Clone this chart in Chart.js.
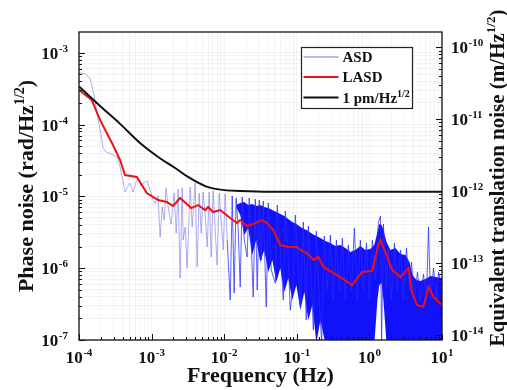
<!DOCTYPE html>
<html>
<head>
<meta charset="utf-8">
<script src="https://cdn.jsdelivr.net/npm/chart.js@4.4.0/dist/chart.umd.min.js"></script>
<style>
  html, body { margin: 0; padding: 0; background: #fff; }
  #wrap { width: 507px; height: 390px; }
</style>
</head>
<body>
<div id="wrap"><canvas id="noiseChart" width="507" height="390"></canvas></div>
<script>
// ASD: raw amplitude spectral density (rad/Hz^1/2)
const asdFreq = [
  1.0e-4, 1.21e-4, 1.42e-4, 1.61e-4, 1.77e-4, 2.01e-4, 2.14e-4, 2.36e-4, 2.76e-4, 3.34e-4,
  3.68e-4, 4.04e-4, 4.30e-4, 4.74e-4, 5.05e-4, 5.56e-4, 6.11e-4, 6.52e-4, 7.16e-4, 7.64e-4,
  8.67e-4, 9.53e-4, 1.05e-3, 1.12e-3, 1.23e-3, 1.31e-3, 1.40e-3, 1.49e-3, 1.58e-3, 1.69e-3,
  1.86e-3, 2.04e-3, 2.18e-3, 2.32e-3, 2.47e-3, 2.64e-3, 2.72e-3, 2.90e-3, 3.09e-3, 3.40e-3,
  3.62e-3, 3.98e-3, 4.24e-3, 4.52e-3, 4.82e-3, 5.13e-3, 5.47e-3, 5.83e-3, 6.21e-3, 6.62e-3,
  7.05e-3, 7.52e-3, 8.00e-3, 8.53e-3, 9.09e-3, 9.69e-3, 1.03e-2, 1.10e-2, 1.21e-2, 1.29e-2,
  1.37e-2, 1.46e-2, 1.56e-2, 1.66e-2, 1.77e-2, 1.89e-2, 2.07e-2, 2.21e-2, 2.36e-2, 2.51e-2,
  2.68e-2, 2.85e-2, 3.04e-2, 3.24e-2, 3.45e-2, 3.79e-2, 4.05e-2, 4.45e-2, 5.05e-2, 5.38e-2,
  5.92e-2, 6.52e-2, 6.94e-2, 7.64e-2, 8.13e-2, 8.95e-2, 9.53e-2, 0.105, 0.112, 0.123,
  0.135, 0.144, 0.158, 0.169, 0.186, 0.204, 0.22, 0.239, 0.264, 0.290,
  0.318, 0.351, 0.386, 0.424, 0.467, 0.513, 0.565, 0.621, 0.683, 0.751,
  0.827, 0.910, 1.0, 1.10, 1.21, 1.33, 1.42, 1.47, 1.56, 1.72,
  1.83, 2.01, 2.21, 2.43, 2.68, 2.94, 3.24, 3.56, 3.80, 4.18,
  4.59, 5.05, 5.56, 6.11, 6.52, 6.94, 7.64, 8.40, 8.95, 10
];
const asdVal = [
  5.2e-4, 5.1e-4, 4.4e-4, 2.58e-4, 1.45e-4, 7.14e-5, 4.71e-5, 4.14e-5, 3.88e-5, 3.53e-5,
  2.56e-5, 1.63e-5, 1.15e-5, 1.39e-5, 1.53e-5, 1.15e-5, 1.58e-5, 1.80e-5, 1.39e-5, 1.53e-5,
  1.63e-5, 1.22e-5, 8.88e-6, 8.07e-6, 1.01e-5, 2.71e-6, 7.10e-6, 4.68e-6, 1.31e-5, 7.10e-6,
  4.11e-6, 1.11e-5, 3.08e-6, 1.26e-5, 7.28e-7, 1.31e-5, 2.46e-6, 3.73e-6, 1.00e-6, 1.35e-5,
  3.73e-6, 1.53e-5, 1.04e-6, 1.11e-5, 3.08e-6, 1.15e-5, 5.49e-6, 1.97e-6, 1.15e-5, 1.43e-6,
  1.19e-5, 3.40e-6, 1.10e-6, 1.11e-5, 4.68e-6, 1.79e-6, 1.08e-5, 2.46e-6, 3.60e-7, 1.01e-5,
  4.50e-7, 9.47e-6, 3.40e-6, 5.46e-7, 9.78e-6, 2.46e-6, 1.43e-6, 9.47e-6, 2.10e-6, 3.96e-7,
  9.17e-6, 4.95e-7, 8.88e-6, 1.30e-6, 8.60e-6, 2.87e-7, 8.07e-6, 9.41e-7, 6.20e-7, 7.57e-6,
  1.79e-6, 3.60e-7, 6.24e-6, 1.30e-6, 2.61e-7, 6.20e-7, 5.49e-6, 1.10e-6, 2.87e-7, 4.39e-6,
  1.89e-7, 3.86e-6, 6.82e-7, 1.37e-7, 3.29e-6, 3.60e-7, 9e-8, 2.80e-6, 4.95e-7, 2.89e-6,
  3.60e-7, 2.46e-6, 4.95e-7, 2.62e-6, 3.60e-7, 2.10e-6, 4.95e-7, 3.61e-6, 3.60e-7, 2.46e-6,
  4.95e-7, 2.24e-6, 3.60e-7, 2.46e-6, 6.82e-7, 4.39e-6, 5.32e-6, 9e-8, 4.11e-6, 4.95e-7,
  2.03e-6, 3.60e-7, 2.24e-6, 4.95e-7, 1.79e-6, 3.60e-7, 1.91e-6, 4.95e-7, 1.22e-6, 3.60e-7,
  8.83e-7, 3.60e-7, 8.28e-7, 3.60e-7, 3.73e-6, 3.60e-7, 1.00e-6, 3.60e-7, 8.83e-7, 4.95e-7
];

// dense part of the ASD (where the trace turns into a solid blue band)
const bandFreq = [
  1.46e-2, 1.66e-2, 1.89e-2, 2.14e-2, 2.43e-2, 2.76e-2, 3.14e-2, 3.56e-2, 4.05e-2, 4.60e-2,
  5.23e-2, 5.92e-2, 6.74e-2, 7.64e-2, 8.67e-2, 9.86e-2, 0.112, 0.127, 0.144, 0.164,
  0.186, 0.211, 0.247, 0.290, 0.339, 0.398, 0.467, 0.547, 0.640, 0.751,
  0.880, 1.03, 1.17, 1.29, 1.37, 1.47, 1.56, 1.72, 1.95, 2.28,
  2.68, 3.14, 3.56, 3.92, 4.45, 5.05, 5.92, 6.94, 8.13, 10
];
const bandUpper = [
  7.57e-6, 8.07e-6, 8.33e-6, 7.57e-6, 7.81e-6, 7.33e-6, 7.57e-6, 7.10e-6, 6.87e-6, 6.44e-6,
  6.04e-6, 5.66e-6, 5.32e-6, 4.83e-6, 4.39e-6, 4.11e-6, 3.73e-6, 3.51e-6, 3.29e-6, 2.99e-6,
  2.80e-6, 2.62e-6, 2.38e-6, 2.24e-6, 2.03e-6, 2.10e-6, 1.91e-6, 1.68e-6, 1.79e-6, 2.03e-6,
  1.79e-6, 1.85e-6, 2.10e-6, 3.18e-6, 4.11e-6, 3.98e-6, 3.40e-6, 2.31e-6, 1.79e-6, 1.91e-6,
  1.57e-6, 1.52e-6, 1.22e-6, 8.02e-7, 6.82e-7, 6.61e-7, 7.05e-7, 7.76e-7, 7.52e-7, 7.28e-7
];
const bandLower = [
  7.10e-6, 5.49e-6, 2.89e-6, 3.61e-6, 1.52e-6, 2.46e-6, 1.22e-6, 1.79e-6, 8.83e-7, 1.30e-6,
  6.40e-7, 1.00e-6, 4.65e-7, 7.28e-7, 3.60e-7, 5.82e-7, 2.61e-7, 4.65e-7, 1.89e-7, 3.06e-7,
  9e-8, 1.89e-7, 9e-8, 9e-8, 9e-8, 9e-8, 9e-8, 9e-8, 9e-8, 9e-8,
  9e-8, 9e-8, 9e-8, 3.60e-7, 5.82e-7, 6.20e-7, 3.60e-7, 9e-8, 9e-8, 9e-8,
  9e-8, 9e-8, 9e-8, 9e-8, 9e-8, 9e-8, 9e-8, 9e-8, 9e-8, 9e-8
];

// LASD: log-averaged spectral density
const lasdFreq = [1e-4, 1.50e-4, 1.95e-4, 2.41e-4, 2.94e-4, 3.68e-4, 4.30e-4, 6.25e-4, 8.59e-4, 1.23e-3,
                  1.62e-3, 1.98e-3, 2.47e-3, 3.51e-3, 4.37e-3, 5.47e-3, 6.01e-3, 7.05e-3, 8.81e-3, 1.21e-2,
                  1.50e-2, 1.66e-2, 2.06e-2, 2.51e-2, 3.31e-2, 3.88e-2, 4.74e-2, 5.92e-2, 7.33e-2, 0.101,
                  0.112, 0.138, 0.169, 0.198, 0.232, 0.290, 0.398, 0.577, 0.793, 1.09,
                  1.33, 1.42, 1.66, 2.06, 2.68, 3.45, 3.88, 4.55, 5.56, 6.52, 7.64, 10];
const lasdVal  = [3.02e-4, 2.19e-4, 1.16e-4, 7.62e-5, 5.18e-5, 3.20e-5, 1.98e-5, 1.86e-5, 1.11e-5, 8.88e-6,
                  8.33e-6, 7.33e-6, 9.47e-6, 6.87e-6, 7.57e-6, 6.44e-6, 7.10e-6, 6.04e-6, 6.44e-6, 4.99e-6,
                  4.25e-6, 4.68e-6, 3.86e-6, 4.11e-6, 4.68e-6, 4.25e-6, 3.40e-6, 2.10e-6, 1.99e-6, 1.97e-6,
                  1.79e-6, 1.62e-6, 1.30e-6, 1.44e-6, 1.04e-6, 9.12e-7, 7.52e-7, 5.82e-7, 8.83e-7, 9.12e-7,
                  2.10e-6, 2.46e-6, 1.68e-6, 9.41e-7, 7.52e-7, 1.00e-6, 4.50e-7, 3.06e-7, 2.90e-7, 5.46e-7,
                  3.96e-7, 3.06e-7];

// 1 pm/Hz^1/2 requirement curve
const refFreq = [1e-4, 1.95e-4, 3.68e-4, 6.93e-4, 1.23e-3, 2.11e-3, 3.18e-3, 5.47e-3, 8.81e-3, 1.66e-2, 4.30e-2, 10];
const refVal  = [3.38e-4, 1.81e-4, 1.02e-4, 5.52e-5, 3.53e-5, 2.48e-5, 1.86e-5, 1.39e-5, 1.24e-5, 1.19e-5, 1.16e-5, 1.16e-5];

// tick labels (powers of ten)
const xTickExp = [-4, -3, -2, -1, 0, 1];
const yTickExp = [-7, -6, -5, -4, -3];
const y2TickExp = [-14, -13, -12, -11, -10];

const FONT = '"Liberation Serif", "Times New Roman", serif';
const yMin = 1e-7, yMax = 1.94e-3;
const rightFactor = 8.4e-8; // rad -> m, so that 1 pm sits on the black plateau

const pts = (xs, ys) => xs.map((x, i) => ({ x: x, y: ys[i] }));

function logTicks(min, max) {
  const out = [];
  for (let e = Math.floor(Math.log10(min)); e <= Math.ceil(Math.log10(max)); e++) {
    for (let m = 1; m <= 9; m++) {
      const v = m * Math.pow(10, e);
      if (v >= min * 0.999 && v <= max * 1.001) out.push({ value: v });
    }
  }
  return out;
}
const isDecade = v => Math.abs(Math.log10(v) - Math.round(Math.log10(v))) < 1e-6;

function drawPow(ctx, exp, x, y, align) {
  ctx.font = 'bold 17px ' + FONT;
  const wb = ctx.measureText('10').width;
  ctx.font = 'bold 11px ' + FONT;
  const es = String(exp);
  const we = ctx.measureText(es).width + 0.5;
  const x0 = align === 'center' ? x - (wb + we) / 2 : align === 'right' ? x - wb - we : x;
  ctx.textAlign = 'left';
  ctx.textBaseline = 'alphabetic';
  ctx.font = 'bold 17px ' + FONT;
  ctx.fillText('10', x0, y);
  ctx.font = 'bold 11px ' + FONT;
  ctx.fillText(es, x0 + wb + 0.5, y - 7);
}

// text with a superscript part; parts = [{t, size, rise}]
function drawRich(ctx, parts, x, y, align) {
  let w = 0;
  parts.forEach(p => { ctx.font = 'bold ' + p.size + 'px ' + FONT; p.w = ctx.measureText(p.t).width; w += p.w; });
  let cx = align === 'center' ? x - w / 2 : x;
  ctx.textAlign = 'left';
  ctx.textBaseline = 'alphabetic';
  parts.forEach(p => {
    ctx.font = 'bold ' + p.size + 'px ' + FONT;
    ctx.fillText(p.t, cx, y - (p.rise || 0));
    cx += p.w;
  });
}

const decorPlugin = {
  id: 'decor',
  afterDraw(chart) {
    const ctx = chart.ctx;
    const a = chart.chartArea;
    const sx = chart.scales.x, sy = chart.scales.y, sy2 = chart.scales.y2;
    ctx.save();
    ctx.strokeStyle = '#111';
    ctx.fillStyle = '#111';

    // tick marks, pointing inwards
    ctx.lineWidth = 1;
    ctx.beginPath();
    sx.ticks.forEach(t => {
      const px = Math.round(sx.getPixelForValue(t.value)) + 0.5;
      const len = isDecade(t.value) ? 6 : 3;
      ctx.moveTo(px, a.bottom); ctx.lineTo(px, a.bottom - len);
    });
    sy.ticks.forEach(t => {
      const py = Math.round(sy.getPixelForValue(t.value)) + 0.5;
      const len = isDecade(t.value) ? 6 : 3;
      ctx.moveTo(a.left, py); ctx.lineTo(a.left + len, py);
    });
    sy2.ticks.forEach(t => {
      const py = Math.round(sy2.getPixelForValue(t.value)) + 0.5;
      const len = isDecade(t.value) ? 6 : 3;
      ctx.moveTo(a.right, py); ctx.lineTo(a.right - len, py);
    });
    ctx.stroke();

    // frame
    ctx.lineWidth = 1.3;
    ctx.strokeRect(a.left, a.top, a.right - a.left, a.bottom - a.top);

    // tick labels
    xTickExp.forEach(e => drawPow(ctx, e, sx.getPixelForValue(Math.pow(10, e)), a.bottom + 23, 'center'));
    yTickExp.forEach(e => drawPow(ctx, e, a.left - 11, sy.getPixelForValue(Math.pow(10, e)) + 6, 'right'));
    y2TickExp.forEach(e => drawPow(ctx, e, a.right + 9, sy2.getPixelForValue(Math.pow(10, e)) + 6, 'left'));

    // axis titles
    drawRich(ctx, [{ t: 'Frequency (Hz)', size: 22 }], (a.left + a.right) / 2, 382, 'center');
    ctx.save();
    ctx.translate(33, 186);
    ctx.rotate(-Math.PI / 2);
    drawRich(ctx, [{ t: 'Phase noise (rad/Hz', size: 22 }, { t: '1/2', size: 14, rise: 9 }, { t: ')', size: 22 }], 0, 0, 'center');
    ctx.restore();
    ctx.save();
    ctx.translate(504, 178);
    ctx.rotate(-Math.PI / 2);
    drawRich(ctx, [{ t: 'Equivalent translation noise (m/Hz', size: 21 }, { t: '1/2', size: 13, rise: 9 }, { t: ')', size: 21 }], 0, 0, 'center');
    ctx.restore();

    // legend
    const lx = 301.5, ly = 47.5, lw = 111, lh = 61;
    ctx.fillStyle = '#fff';
    ctx.fillRect(lx, ly, lw, lh);
    ctx.lineWidth = 1.2;
    ctx.strokeStyle = '#222';
    ctx.strokeRect(lx, ly, lw, lh);
    const rows = [
      { color: 'rgba(140,140,235,0.8)', width: 1.5, y: 57, parts: [{ t: 'ASD', size: 15 }] },
      { color: '#ee1111', width: 2, y: 77, parts: [{ t: 'LASD', size: 15 }] },
      { color: '#111', width: 2, y: 97.5, parts: [{ t: '1 pm/Hz', size: 15 }, { t: '1/2', size: 10, rise: 6 }] }
    ];
    rows.forEach(r => {
      ctx.strokeStyle = r.color;
      ctx.lineWidth = r.width;
      ctx.beginPath();
      ctx.moveTo(lx + 2, r.y); ctx.lineTo(lx + 37, r.y);
      ctx.stroke();
      ctx.fillStyle = '#111';
      drawRich(ctx, r.parts, lx + 41, r.y + 5, 'left');
    });
    ctx.restore();
  }
};

const ctx = document.getElementById('noiseChart').getContext('2d');

const chart = new Chart(ctx, {
  type: 'line',
  data: {
    datasets: [
      {
        label: '1 pm/Hz^1/2',
        data: pts(refFreq, refVal),
        borderColor: '#111',
        borderWidth: 2,
        pointRadius: 0,
        cubicInterpolationMode: 'monotone',
        order: 0
      },
      {
        label: 'LASD',
        data: pts(lasdFreq, lasdVal),
        borderColor: '#ee1111',
        borderWidth: 2,
        pointRadius: 0,
        tension: 0,
        order: 1
      },
      {
        label: 'ASD',
        data: pts(asdFreq, asdVal),
        borderColor: 'rgba(110,110,235,0.55)',
        borderWidth: 1,
        pointRadius: 0,
        tension: 0,
        segment: {
          borderColor: c => c.p0.parsed.x < 0.011 ? 'rgba(110,110,235,0.55)' : 'rgba(40,40,255,0.75)'
        },
        order: 2
      },
      {
        label: 'ASD band',
        data: pts(bandFreq, bandUpper),
        borderColor: 'rgba(0,0,0,0)',
        borderWidth: 1,
        backgroundColor: 'rgb(18,18,250)',
        fill: '+1',
        pointRadius: 0,
        tension: 0,
        order: 3
      },
      {
        label: 'ASD band low',
        data: pts(bandFreq, bandLower),
        borderColor: 'rgba(0,0,0,0)',
        borderWidth: 1,
        fill: false,
        pointRadius: 0,
        tension: 0,
        order: 4
      }
    ]
  },
  options: {
    responsive: false,
    animation: false,
    layout: { padding: { left: 79, right: 65, top: 32, bottom: 50 } },
    plugins: {
      legend: { display: false },
      tooltip: { enabled: false }
    },
    scales: {
      x: {
        type: 'logarithmic',
        position: 'bottom',
        min: 1e-4,
        max: 10,
        afterBuildTicks: s => { s.ticks = logTicks(1e-4, 10); },
        afterFit: s => { s.height = 0; },
        ticks: { display: false, autoSkip: false },
        grid: { color: 'rgba(0,0,0,0.045)', drawTicks: false },
        border: { display: false }
      },
      y: {
        type: 'logarithmic',
        position: 'left',
        min: yMin,
        max: yMax,
        afterBuildTicks: s => { s.ticks = logTicks(yMin, yMax); },
        afterFit: s => { s.width = 0; },
        ticks: { display: false, autoSkip: false },
        grid: { color: 'rgba(0,0,0,0.045)', drawTicks: false },
        border: { display: false }
      },
      y2: {
        type: 'logarithmic',
        position: 'right',
        min: yMin * rightFactor,
        max: yMax * rightFactor,
        afterBuildTicks: s => { s.ticks = logTicks(yMin * rightFactor, yMax * rightFactor); },
        afterFit: s => { s.width = 0; },
        ticks: { display: false, autoSkip: false },
        grid: { display: false, drawTicks: false },
        border: { display: false }
      }
    }
  },
  plugins: [decorPlugin]
});
</script>
</body>
</html>
